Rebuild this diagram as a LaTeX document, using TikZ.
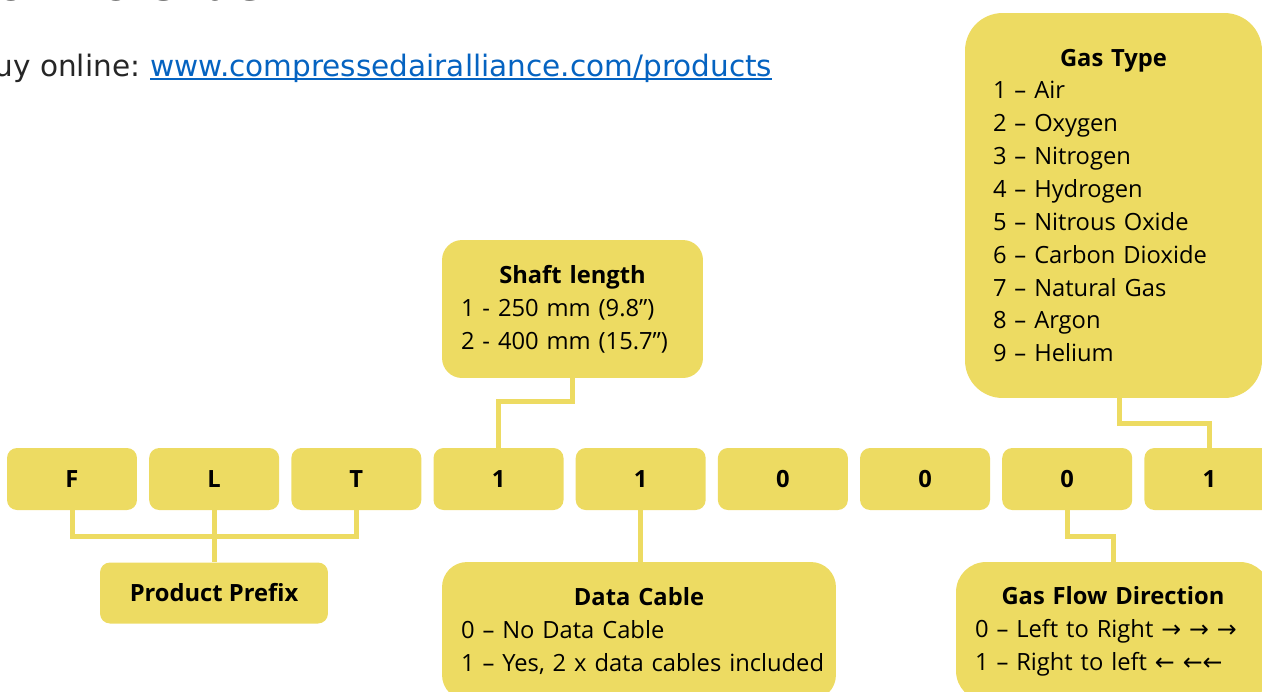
\documentclass[tikz,border=0pt]{standalone}
\usepackage{fontspec}
\setmainfont{Open Sans}
\newfontfamily\webfont{DejaVu Sans}
\newfontfamily\arrowfont{DejaVu Sans}
\usetikzlibrary{positioning}
\definecolor{cayellow}{RGB}{237,219,98}
\definecolor{linkblue}{RGB}{5,99,193}
\definecolor{inkgray}{RGB}{38,38,38}

\begin{document}
\begin{tikzpicture}[x=0.02cm, y=-0.02cm,
    every node/.style = {font=\fontsize{13.5}{18.7}\selectfont},
    code/.style = {fill=cayellow, rounded corners=0.2cm, minimum width=2.6cm,
        minimum height=1.24cm, font=\fontsize{13.5}{18.7}\selectfont\bfseries},
    info/.style = {fill=cayellow, align=left, inner ysep=0pt},
    web/.style = {inner sep=0pt, font=\webfont\fontsize{16.8}{20}\selectfont},
    wire/.style = {draw=cayellow, line width=0.1cm}]
\useasboundingbox (0,0) rectangle (1262,691);
\clip (0,0) rectangle (1262,691);

\node (title) [anchor=base east, inner sep=0pt, text=inkgray,
    font=\webfont\bfseries\fontsize{24.5}{29}\selectfont] at (285,0) {How to Order};
\node (url) [web, anchor=base west, text=linkblue] at (150,76)
    {www.compressedairalliance.com/products};
\node (buy) [web, anchor=base east, text=inkgray] at ([xshift=-0.19cm]url.base west) {Buy online:};
\draw[linkblue, line width=0.04cm] ([yshift=-0.06cm]url.base west) -- ([yshift=-0.06cm]url.base east);

\node (F) [code] at (72,479) {F};
\node (L) [code, right=0.23cm of F] {L};
\node (T) [code, right=0.23cm of L] {T};
\node (shaftdigit) [code, right=0.23cm of T] {1};
\node (cabledigit) [code, right=0.23cm of shaftdigit] {1};
\node (zeroA) [code, right=0.23cm of cabledigit] {0};
\node (zeroB) [code, right=0.23cm of zeroA] {0};
\node (flowdigit) [code, right=0.23cm of zeroB] {0};
\node (gasdigit) [code, right=0.23cm of flowdigit] {1};

\node (prefix) [code, minimum width=4.56cm, minimum height=1.22cm] at (214,593) {Product Prefix};
\node (shaftbox) [info, rounded corners=0.4cm, text width=4.46cm, inner xsep=0.38cm,
    minimum height=2.76cm] at (572.5,309)
    {{\centering\bfseries Shaft length\par}1 - 250 mm (9.8”)\\2 - 400 mm (15.7”)};
\node (gasbox) [info, rounded corners=0.75cm, text width=4.82cm, inner xsep=0.56cm,
    minimum height=7.7cm] at (1113.5,205.5)
    {{\centering\bfseries Gas Type\par}1 – Air\\2 – Oxygen\\3 – Nitrogen\\4 – Hydrogen\\
    5 – Nitrous Oxide\\6 – Carbon Dioxide\\7 – Natural Gas\\8 – Argon\\9 – Helium};
\node (cablebox) [info, rounded corners=0.5cm, text width=7.12cm, inner xsep=0.38cm,
    minimum height=2.76cm] at (639,631)
    {{\centering\bfseries Data Cable\par}0 – No Data Cable\\\mbox{1 – Yes, 2 x data cables included}};
\node (flowbox) [info, rounded corners=0.6cm, text width=5.52cm, inner xsep=0.38cm,
    minimum height=2.78cm] at (1113,631.5)
    {{\centering\bfseries Gas Flow Direction\par}\mbox{0 – Left to Right {\arrowfont →\ →\ →}}\\
    \mbox{1 – Right to left {\arrowfont ←\ ←←}}};

\coordinate (prefixbus) at (213,536);
\coordinate (shaftbend) at (534,401);
\coordinate (gasbend) at (1160,423);
\coordinate (flowbend) at (1088,536);
\draw[wire] (F.south) |- (prefixbus) -| (T.south);
\draw[wire] (L.south) -- (L.south |- prefix.north);
\draw[wire] (shaftbox.south) |- (shaftbend) -| (shaftdigit.north);
\draw[wire] (cabledigit.south) -- (cabledigit.south |- cablebox.north);
\draw[wire] ([xshift=0.12cm]gasbox.south) |- (gasbend) -| (gasdigit.north);
\draw[wire] (flowdigit.south) |- (flowbend) -| (flowbox.north);
\end{tikzpicture}
\end{document}
